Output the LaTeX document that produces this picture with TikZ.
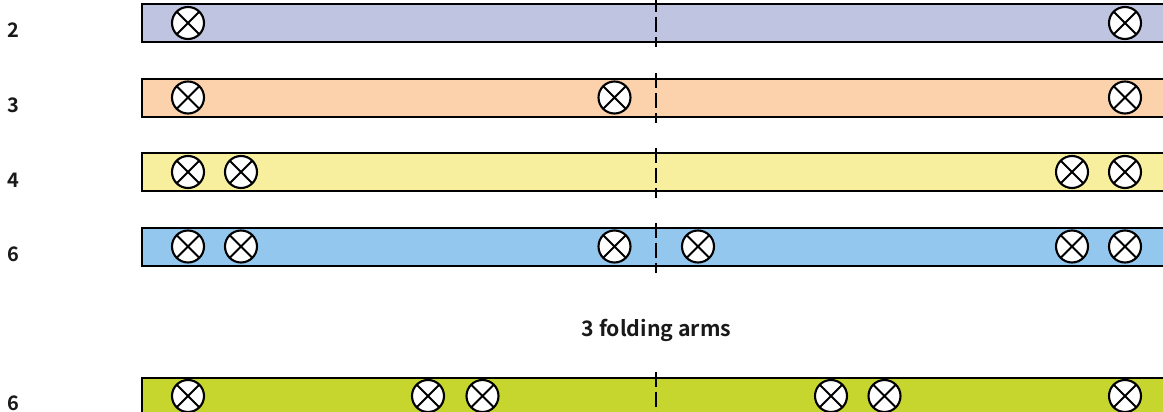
\documentclass[tikz,border=0pt]{standalone}
\usepackage{fontspec}
\setmainfont{Noto Sans CJK SC}[BoldFont={* Bold}]
\begin{document}
\begin{tikzpicture}[x=1pt,y=-1pt,
  band/.style={draw=black,line width=2pt},
  foldline/.style={draw=black,line width=2pt,dash pattern=on 15pt off 5pt},
  rowlabel/.style={font=\bfseries\fontsize{20pt}{24pt}\selectfont,text=black!90,inner sep=0pt},
  titlelabel/.style={rowlabel,font=\bfseries\fontsize{21.3pt}{25pt}\selectfont},
  lamp/.style={circle,draw=black,fill=white,line width=2.1pt,minimum size=32pt,inner sep=0pt,
    path picture={\draw[black,line width=2.1pt]
      (path picture bounding box.north west)--(path picture bounding box.south east)
      (path picture bounding box.north east)--(path picture bounding box.south west);}}]
\definecolor{cA}{HTML}{BFC4E0}
\definecolor{cB}{HTML}{FCD2AC}
\definecolor{cC}{HTML}{F8EF9E}
\definecolor{cD}{HTML}{93C7EE}
\definecolor{cE}{HTML}{C6D62E}
\useasboundingbox (0,0) rectangle (1163,412);
\clip (0,0) rectangle (1163,412);
\path[band,fill=cA] (142,4) rectangle (1180,42);
\path[band,fill=cB] (142,79) rectangle (1180,117);
\path[band,fill=cC] (142,153) rectangle (1180,191);
\path[band,fill=cD] (142,228) rectangle (1180,266);
\path[band,fill=cE] (142,378) rectangle (1180,430);
\coordinate (f1a) at (656,-3); \coordinate (f1b) at (656,47.5);
\coordinate (f2a) at (656,73); \coordinate (f2b) at (656,123);
\coordinate (f3a) at (656,147.5); \coordinate (f3b) at (656,197.5);
\coordinate (f4a) at (656,222.5); \coordinate (f4b) at (656,272.5);
\coordinate (f5a) at (656,371.5); \coordinate (f5b) at (656,421.5);
\foreach \i in {1,...,5} \draw[foldline] (f\i a) -- (f\i b);
\foreach \n/\x/\y in {a1/188/23,a2/1125/23,
  b1/188/97.5,b2/614.5/97.5,b3/1125/97.5,
  c1/188/172,c2/241/172,c3/1072/172,c4/1125/172,
  d1/188/246.5,d2/241/246.5,d3/614.5/246.5,d4/698/246.5,d5/1072/246.5,d6/1125/246.5,
  e1/188/396,e2/428/396,e3/482.5/396,e4/831/396,e5/884.5/396,e6/1125/396}
  \node[lamp] (\n) at (\x,\y) {};
\node[rowlabel] (l2) at (13.5,30) {2};
\node[rowlabel] (l3) at (13.5,105) {3};
\node[rowlabel] (l4) at (13.5,180) {4};
\node[rowlabel] (l6) at (13.5,254.5) {6};
\node[rowlabel] (l7) at (13.5,403) {6};
\node[titlelabel] (t) at (656.5,330) {3 folding arms};
\end{tikzpicture}
\end{document}
